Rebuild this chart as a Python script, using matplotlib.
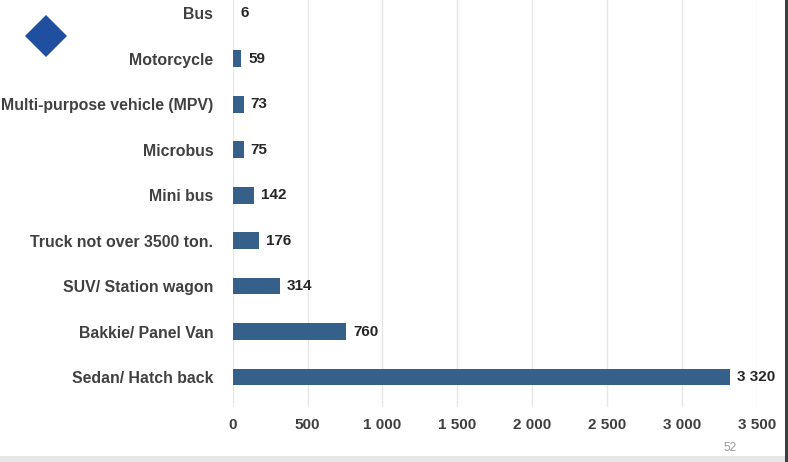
import matplotlib
matplotlib.use("Agg")
import matplotlib.pyplot as plt
from matplotlib.patches import Polygon, Rectangle
from matplotlib.ticker import FuncFormatter

# data (top to bottom as shown)
categories = ["Bus", "Motorcycle", "Multi-purpose vehicle (MPV)", "Microbus",
              "Mini bus", "Truck not over 3500 ton.", "SUV/ Station wagon",
              "Bakkie/ Panel Van", "Sedan/ Hatch back"]
values = [6, 59, 73, 75, 142, 176, 314, 760, 3320]
page_no = "52"

def fmt(v):
    return "{:,}".format(int(v)).replace(",", " ")

plt.rcParams['font.family'] = ['Liberation Sans', 'DejaVu Sans']

fig = plt.figure(figsize=(7.88, 4.62), dpi=100)
ax = fig.add_axes([232.6/788, 1 - 407/462, (757 - 232.6)/788, 407/462])

cats = categories[::-1]
vals = values[::-1]
ypos = list(range(len(cats)))
bar_col = "#346089"
ax.barh(ypos, vals, height=0.37, color=bar_col, zorder=3)

for y, v in zip(ypos, vals):
    ax.text(v + 45, y, fmt(v), va="center", ha="left", fontsize=11,
            fontweight="bold", color="#262626", clip_on=False)

ax.set_xlim(0, 3500)
ax.set_ylim(-0.66, 8.29)
ax.set_xticks(range(0, 3501, 500))
ax.xaxis.set_major_formatter(FuncFormatter(lambda v, p: fmt(v)))
ax.set_yticks(ypos)
ax.set_yticklabels(cats)
ax.tick_params(axis="both", length=0, labelsize=11, labelcolor="#404040")
ax.tick_params(axis="y", pad=14, labelsize=11.4)
ax.tick_params(axis="x", pad=8)
for lab in ax.get_xticklabels() + ax.get_yticklabels():
    lab.set_fontweight("bold")
ax.grid(axis="x", color="#e6e6e6", linewidth=1, zorder=0)
for s in ax.spines.values():
    s.set_visible(False)

# decoration: logo diamond, page number, bottom strip, right frame
fig.patches.append(Polygon([(46/788, 1 - 15/462), (67/788, 1 - 36/462),
                            (46/788, 1 - 57/462), (25/788, 1 - 36/462)],
                           closed=True, transform=fig.transFigure,
                           facecolor="#1f4f9e", edgecolor="none"))
fig.patches.append(Rectangle((0, 0), 1, 6/462, transform=fig.transFigure,
                             facecolor="#e6e6e6", edgecolor="none"))
fig.patches.append(Rectangle((785/788, 0), 3/788, 1, transform=fig.transFigure,
                             facecolor="#3a3f44", edgecolor="none"))
fig.text(730/788, 1 - 448/462, page_no, fontsize=8.5, color="#9a9a9a",
         ha="center", va="center")

fig.savefig("out.png", dpi=100)
